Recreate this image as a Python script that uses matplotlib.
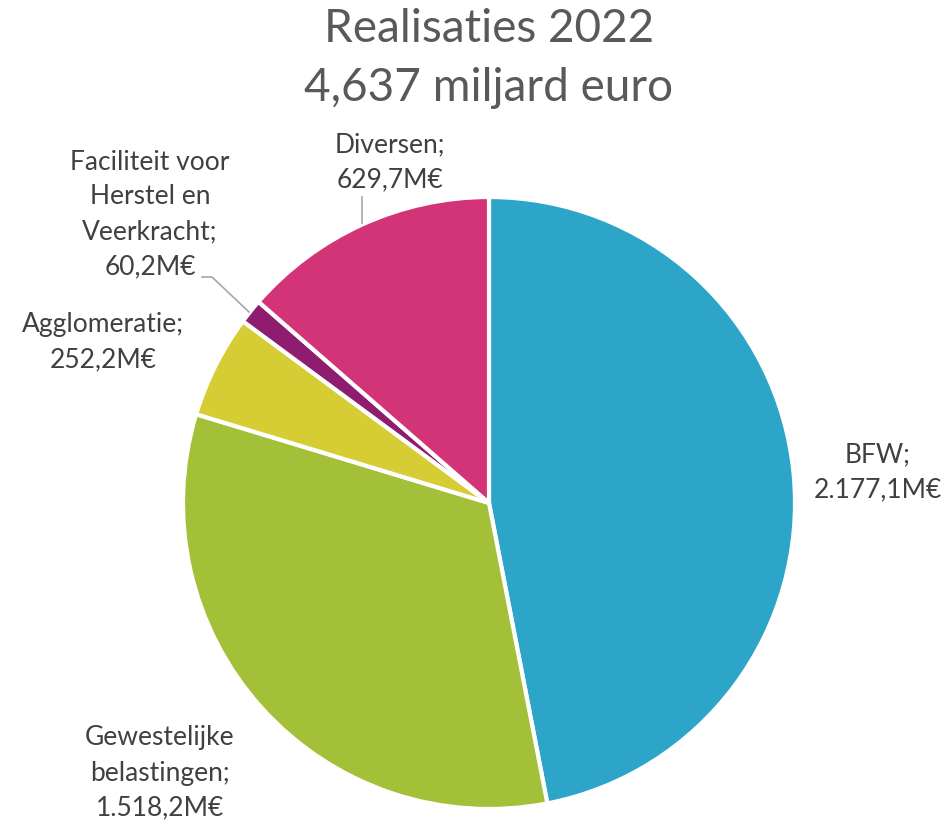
import matplotlib.pyplot as plt

# data (M€)
labels = ["BFW", "Gewestelijke\nbelastingen", "Agglomeratie",
          "Faciliteit voor\nHerstel en\nVeerkracht", "Diversen"]
values = [2177.1, 1518.2, 252.2, 60.2, 629.7]
value_txt = ["2.177,1M€", "1.518,2M€", "252,2M€", "60,2M€", "629,7M€"]
colors = ["#2CA5C8", "#A3C038", "#D6CD34", "#8E1D70", "#D33478"]

W, H = 945, 826
plt.rcParams['font.family'] = ['Lato', 'DejaVu Sans']
txt_col = "#404040"

fig = plt.figure(figsize=(W / 100, H / 100), dpi=100)
ax = fig.add_axes([0, 0, 1, 1])
ax.set_xlim(0, W)
ax.set_ylim(0, H)
ax.set_aspect("equal")
ax.axis("off")

# pie in pixel units (y measured from bottom)
cx, cy, r = 489, H - 503, 306
ax.pie(values, colors=colors, startangle=90, counterclock=False,
       center=(cx, cy), radius=r,
       wedgeprops=dict(edgecolor="white", linewidth=3))
ax.set_xlim(0, W)
ax.set_ylim(0, H)

# title
ax.text(489, H - 29, "Realisaties 2022", ha="center", va="center",
        fontsize=33, color="#595959")
ax.text(489, H - 88, "4,637 miljard euro", ha="center", va="center",
        fontsize=33, color="#595959")

# data labels (x, top y in px from top)
label_pos = [(878, 455), (160, 738), (103, 325), (150, 162), (390, 145)]
for lab, vt, (x, y) in zip(labels, value_txt, label_pos):
    lines = (lab + ";").split("\n") + [vt]
    for k, line in enumerate(lines):
        ax.text(x, H - (y + 35 * k), line, ha="center", va="center",
                fontsize=19, color=txt_col)

# leader lines
ax.plot([362, 362], [H - 197, H - 223], color="#A6A6A6", lw=1.2)
ax.plot([202, 212, 249], [H - 277, H - 277, H - 312], color="#A6A6A6", lw=1.2)

fig.savefig("out.png", dpi=100)
